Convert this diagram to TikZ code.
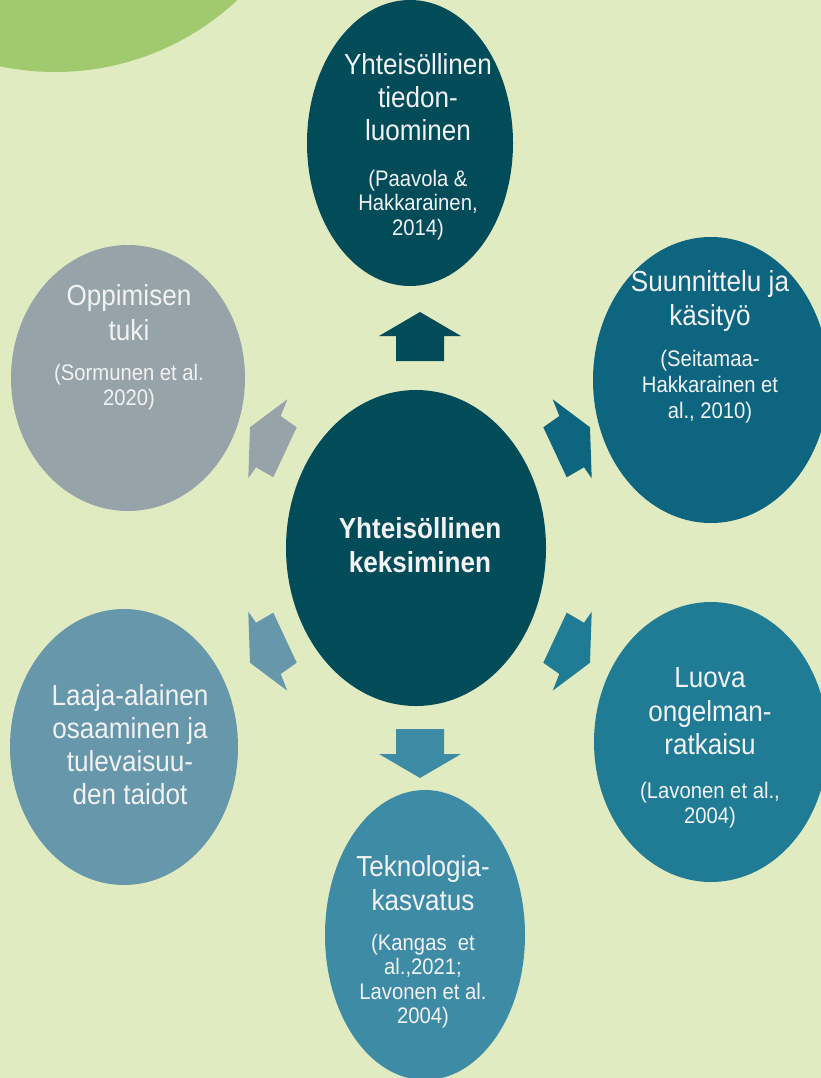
\documentclass[tikz,border=0pt]{standalone}
\usepackage{fontspec}
\setmainfont{Liberation Sans}[FakeStretch=0.9]
\usetikzlibrary{shapes.geometric}
\definecolor{bgc}{HTML}{E1EBC1}
\definecolor{grnc}{HTML}{A1C96E}
\definecolor{c0}{HTML}{024B59}
\definecolor{c1}{HTML}{0E6580}
\definecolor{c2}{HTML}{207B94}
\definecolor{c3}{HTML}{3E8BA5}
\definecolor{c4}{HTML}{6797AA}
\definecolor{c5}{HTML}{96A3A8}
\definecolor{txtc}{HTML}{F2F2F2}
\newcommand\tline[5]{\node[lbl,#4] (#1) at (#2,#3) {#5};}
\tikzset{
  lbl/.style={anchor=base, inner sep=0pt, text=txtc},
  big/.style={font=\fontsize{29}{33}\selectfont},
  bigb/.style={font=\fontsize{29}{33}\selectfont\bfseries},
  cite/.style={font=\fontsize{22.5}{25}\selectfont},
  bubble/.style={ellipse, draw=none, inner sep=0pt, outer sep=0pt},
}
\begin{document}
\begin{tikzpicture}[x=1pt,y=-1pt]
\useasboundingbox (0,0) rectangle (821,1078);
\clip (0,0) rectangle (821,1078);
\fill[bgc] (0,0) rectangle (821,1078);
\fill[grnc] (55,-195) circle[radius=267pt];
% ellipses
\node[bubble, fill=c0, minimum width=206pt, minimum height=286pt] (top) at (410,143) {};
\node[bubble, fill=c1, minimum width=236pt, minimum height=286pt] (ur) at (711,380) {};
\node[bubble, fill=c2, minimum width=234pt, minimum height=280pt] (lr) at (711,742) {};
\node[bubble, fill=c3, minimum width=200pt, minimum height=290pt] (bot) at (425,935) {};
\node[bubble, fill=c4, minimum width=228pt, minimum height=276pt] (ll) at (124,747) {};
\node[bubble, fill=c5, minimum width=234pt, minimum height=266pt] (ul) at (128,378) {};
\node[bubble, fill=c0, minimum width=260pt, minimum height=316pt] (mid) at (416,548) {};
% block arrows
\fill[c0] (420,312) -- (461,336) -- (444,336) -- (444,361) -- (396,361) -- (396,336) -- (379,336) -- cycle;
\fill[c3] (420,778) -- (461,754) -- (444,754) -- (444,729) -- (396,729) -- (396,754) -- (379,754) -- cycle;
\fill[c5] (287.3,399.3) -- (280.7,416) -- (296.7,427.3) -- (273.3,477.3) -- (256,467.3) -- (248.3,478.3) -- (250,427.3) -- cycle;
\fill[c1] (552.7,399.3) -- (559.3,416) -- (543.3,427.3) -- (566.7,477.3) -- (584,467.3) -- (591.7,478.3) -- (590,427.3) -- cycle;
\fill[c4] (287.3,690.7) -- (280.7,674) -- (296.7,662.7) -- (273.3,612.7) -- (256,622.7) -- (248.3,611.7) -- (250,662.7) -- cycle;
\fill[c2] (552.7,690.7) -- (559.3,674) -- (543.3,662.7) -- (566.7,612.7) -- (584,622.7) -- (591.7,611.7) -- (590,662.7) -- cycle;
% texts
\tline{t0a}{420}{538}{bigb}{Yhteisöllinen}
\tline{t0b}{420}{572}{bigb}{keksiminen}
\tline{t1a}{418}{75}{big}{Yhteisöllinen}
\tline{t1b}{418}{108}{big}{tiedon-}
\tline{t1c}{418}{141}{big}{luominen}
\tline{t1d}{418}{186}{cite}{(Paavola \&}
\tline{t1e}{418}{210.5}{cite}{Hakkarainen,}
\tline{t1f}{418}{235}{cite}{2014)}
\tline{t2a}{710}{291}{big}{Suunnittelu ja}
\tline{t2b}{710}{325}{big}{käsityö}
\tline{t2c}{710}{366}{cite}{(Seitamaa-}
\tline{t2d}{710}{392}{cite}{Hakkarainen et}
\tline{t2e}{710}{418}{cite}{al., 2010)}
\tline{t3a}{710}{687}{big}{Luova}
\tline{t3b}{710}{721}{big}{ongelman-}
\tline{t3c}{710}{754}{big}{ratkaisu}
\tline{t3d}{710}{798}{cite}{(Lavonen et al.,}
\tline{t3e}{710}{823}{cite}{2004)}
\tline{t4a}{423}{876}{big}{Teknologia-}
\tline{t4b}{423}{910}{big}{kasvatus}
\tline{t4c}{423}{950}{cite}{(Kangas\ \ et}
\tline{t4d}{423}{974.5}{cite}{al.,2021;}
\tline{t4e}{423}{999}{cite}{Lavonen et al.}
\tline{t4f}{423}{1023.5}{cite}{2004)}
\tline{t5a}{130}{705}{big}{Laaja-alainen}
\tline{t5b}{130}{738}{big}{osaaminen ja}
\tline{t5c}{130}{771}{big}{tulevaisuu-}
\tline{t5d}{130}{804}{big}{den taidot}
\tline{t6a}{129}{305}{big}{Oppimisen}
\tline{t6b}{129}{340}{big}{tuki}
\tline{t6c}{129}{380}{cite}{(Sormunen et al.}
\tline{t6d}{129}{405}{cite}{2020)}
\end{tikzpicture}
\end{document}
